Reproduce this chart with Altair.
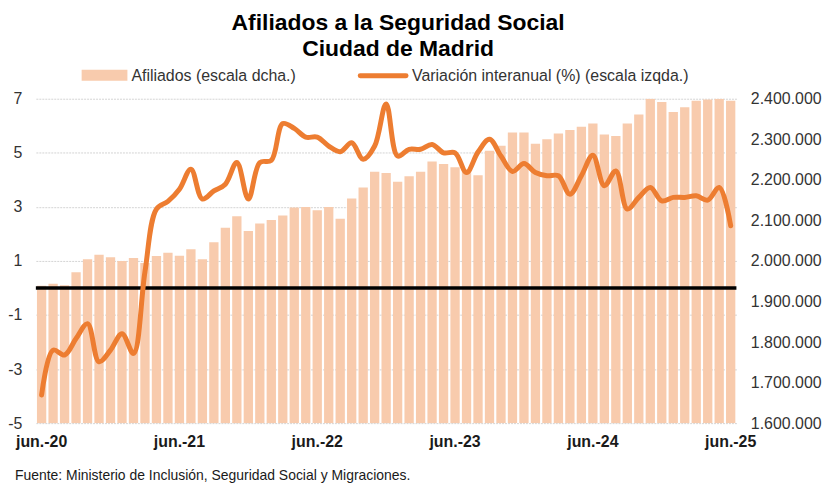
import altair as alt
import pandas as pd

abbr = ["ene.", "feb.", "mar.", "abr.", "may.", "jun.", "jul.", "ago.", "sep.", "oct.", "nov.", "dic."]
meses = []
for k in range(61):
    m = (5 + k) % 12
    a = 20 + (5 + k) // 12
    meses.append(f"{abbr[m]}-{a}")

etiquetas_x = ["jun.-20", "jun.-21", "jun.-22", "jun.-23", "jun.-24", "jun.-25"]

afiliados = [
    1939000, 1944000, 1940000, 1972000, 2004000, 2015000, 2009000, 2000000, 2007000, 1995000,
    2012000, 2020000, 2013000, 2029000, 2004000, 2046000, 2082000, 2110000, 2074000, 2092000,
    2101000, 2112000, 2132000, 2133000, 2125000, 2133000, 2104000, 2154000, 2181000, 2220000,
    2217000, 2195000, 2209000, 2220000, 2245000, 2239000, 2231000, 2226000, 2211000, 2272000,
    2284000, 2317000, 2317000, 2289000, 2300000, 2314000, 2323000, 2331000, 2339000, 2312000,
    2308000, 2339000, 2361000, 2400000, 2392000, 2367000, 2379000, 2395000, 2398000, 2400000,
    2395000,
]

variacion = [
    -3.96, -2.30, -2.48, -1.87, -1.32, -2.73, -2.30, -1.69, -2.42, 0.60,
    2.92, 3.20, 3.65, 4.39, 3.29, 3.59, 3.84, 4.64, 3.29, 4.64,
    4.72, 6.08, 5.90, 5.58, 5.58, 5.25, 5.04, 5.37, 4.76, 5.25,
    6.81, 4.88, 5.13, 5.13, 5.31, 5.00, 5.00, 4.27, 5.03, 5.50,
    4.88, 4.31, 4.60, 4.27, 4.15, 4.15, 3.47, 4.15, 4.91, 3.78,
    4.33, 2.92, 3.35, 3.72, 3.22, 3.35, 3.35, 3.41, 3.25, 3.72,
    2.30,
]

ticks_izq = [-5, -3, -1, 1, 3, 5, 7]
ticks_dcha = [1600000, 1700000, 1800000, 1900000, 2000000, 2100000, 2200000, 2300000, 2400000]

df = pd.DataFrame({"mes": meses, "afiliados": afiliados, "variacion": variacion})

FONT = "Liberation Sans"
BAR_COLOR = "#F8CBAD"
LINE_COLOR = "#ED7D31"

x_enc = alt.X(
    "mes:N",
    sort=meses,
    scale=alt.Scale(paddingInner=0.19, paddingOuter=0.095),
    axis=alt.Axis(
        values=etiquetas_x, title=None, labelAngle=0, ticks=False, domain=False,
        labelFontSize=16, labelFontWeight="bold", labelColor="#1a1a1a", labelFont=FONT,
        labelPadding=10,
    ),
)

bars = alt.Chart(df).mark_bar(color=BAR_COLOR, clip=True).encode(
    x=x_enc,
    y=alt.Y(
        "afiliados:Q",
        scale=alt.Scale(domain=[1600000, 2400000], zero=False, nice=False),
        axis=alt.Axis(
            orient="right", values=ticks_dcha, title=None, ticks=False, domain=False, grid=False,
            labelFontSize=16, labelColor="#333333", labelFont=FONT, labelPadding=14,
            labelExpr="replace(format(datum.value, ',d'), regexp(',', 'g'), '.')",
        ),
    ),
    y2=alt.datum(1600000),
)

cero = alt.Chart(pd.DataFrame({"cero": [0]})).mark_rule(color="black", strokeWidth=3.5).encode(
    y=alt.Y("cero:Q", scale=alt.Scale(domain=[-5, 7], nice=False), axis=None)
)

line = alt.Chart(df).mark_line(
    color=LINE_COLOR, strokeWidth=5, interpolate="catmull-rom", strokeCap="round", strokeJoin="round"
).encode(
    x=alt.X("mes:N", sort=meses),
    y=alt.Y(
        "variacion:Q",
        scale=alt.Scale(domain=[-5, 7], nice=False),
        axis=alt.Axis(
            orient="left", values=ticks_izq, title=None, ticks=False, domain=False, grid=True,
            gridColor="#D4D4D4", gridWidth=1, gridDash=[2, 1],
            labelFontSize=16, labelColor="#333333", labelFont=FONT, labelPadding=14,
            labelExpr="datum.value < 0 ? '-' + abs(datum.value) : '' + datum.value",
        ),
    ),
)

leg_df = pd.DataFrame({"t": [0]})
leg_rect = alt.Chart(leg_df).mark_rect(color=BAR_COLOR).encode(
    x=alt.value(46), x2=alt.value(92), y=alt.value(-29), y2=alt.value(-18)
)
leg_rect_txt = alt.Chart(leg_df).mark_text(
    text="Afiliados (escala dcha.)", align="left", baseline="middle", fontSize=16, font=FONT, color="#333333"
).encode(x=alt.value(96), y=alt.value(-23))
leg_line = alt.Chart(leg_df).mark_rule(color=LINE_COLOR, strokeWidth=5, strokeCap="round").encode(
    x=alt.value(326), x2=alt.value(372), y=alt.value(-23)
)
leg_line_txt = alt.Chart(leg_df).mark_text(
    text="Variación interanual (%) (escala izqda.)", align="left", baseline="middle", fontSize=16,
    font=FONT, color="#333333"
).encode(x=alt.value(378), y=alt.value(-23))

fuente = alt.Chart(leg_df).mark_text(
    text="Fuente: Ministerio de Inclusión, Seguridad Social y Migraciones.", align="left",
    baseline="middle", fontSize=14, font=FONT, color="#1a1a1a"
).encode(x=alt.value(-21), y=alt.value(379))

chart = alt.layer(
    bars, cero, line, leg_rect, leg_rect_txt, leg_line, leg_line_txt, fuente
).resolve_scale(y="independent").properties(
    width=704,
    height=326,
    padding={"left": 28, "top": 90, "right": 86, "bottom": 62},
    autosize=alt.AutoSizeParams(type="none"),
    title=alt.TitleParams(
        ["Afiliados a la Seguridad Social", "Ciudad de Madrid"],
        font=FONT, fontSize=23, fontWeight="bold", color="black",
        anchor="middle", frame="group", dx=12, offset=7, lineHeight=26,
    ),
).configure_view(stroke=None)

chart.save("out.html", embed_options={"renderer": "svg", "actions": False})
